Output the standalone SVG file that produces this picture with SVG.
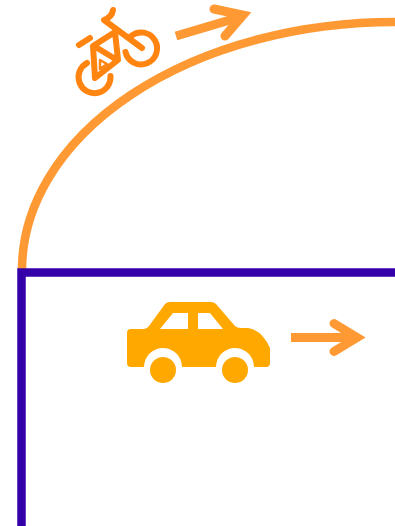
<svg xmlns="http://www.w3.org/2000/svg" width="395" height="526" viewBox="0 0 395 526">
<style>
.road{fill:none;stroke-width:8.500}
.arrow{fill:none;stroke:#ff9933;stroke-width:9}
.bike{fill:none;stroke:#ff8410;stroke-width:6;stroke-linecap:round;stroke-linejoin:round}
</style>
<rect width="395" height="526" fill="#fff"/>
<g id="connectors">
<path class="road" stroke="#ff9933" d="M22 270A373 248 0 0 1 395 22"/>
<path class="road" stroke="#3300aa" d="M21.500 526V272.500H395"/>
</g>
<g id="arrow-bike">
<path class="arrow" d="M176 36L240 17"/>
<path class="arrow" d="M214 9L243 15L225 36" stroke-linecap="round" stroke-linejoin="miter"/>
</g>
<g id="arrow-car">
<path class="arrow" d="M291 337.500H354"/>
<path class="arrow" d="M334 323.500L357 337.500L334 351.500" stroke-linecap="round" stroke-linejoin="miter"/>
</g>
<g id="bicycle">
<path class="bike" d="M131 36A16 16 0 1 1 125.500 52"/>
<path class="bike" d="M113 10Q112 17 104 20L142 48"/>
<path class="bike" d="M79 45L90 38M115 32L93 46L95 78L118 60L115 32M94 46L117 60"/>
<path class="bike" style="stroke-width:2.500" d="M100 60L107 64L100 69Z"/>
<path class="bike" d="M87 63A16 16 0 1 0 110.500 76"/>
</g>
<g id="car">
<path fill="#ffa800" fill-rule="evenodd" d="M131 329H144Q147 329 149 326L165 304Q167 302 170 302H211Q214 302 216 304L235 326Q237 328 241 328H248Q262 330 270 348V363Q270 367 266 367H254A19 19 0 0 0 216 367H182A19 19 0 0 0 144 367H131Q127 367 127 363V333Q127 329 131 329ZM160 329H188V313H173ZM198 313V329H223L210 313Z"/>
<circle cx="163" cy="370" r="13" fill="#ffa800"/>
<circle cx="235" cy="370" r="13" fill="#ffa800"/>
</g>
</svg>
